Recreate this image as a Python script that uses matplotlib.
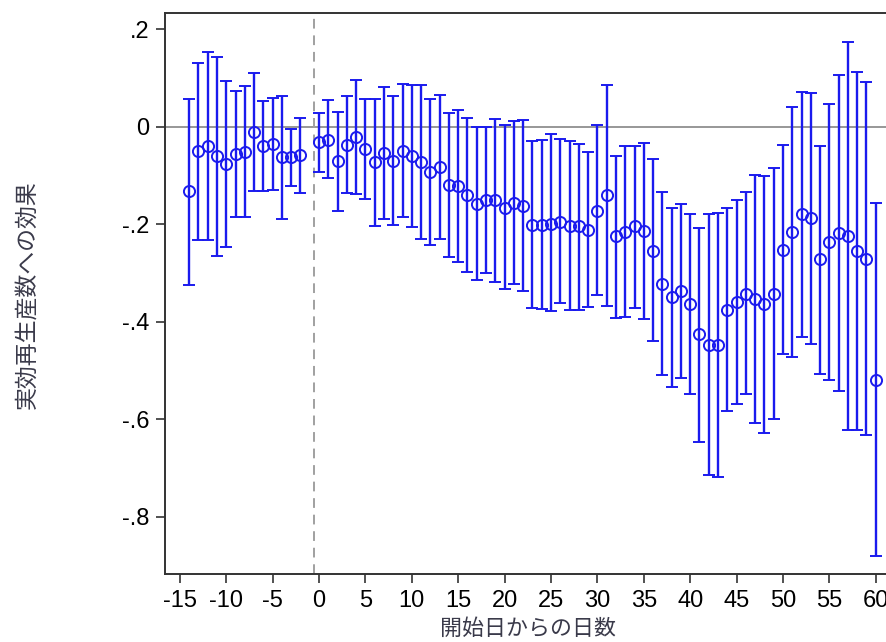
import matplotlib
matplotlib.use("Agg")
import matplotlib.pyplot as plt
import numpy as np

days = [-14, -13, -12, -11, -10, -9, -8, -7, -6, -5, -4, -3, -2,
        0, 1, 2, 3, 4, 5, 6, 7, 8, 9, 10, 11, 12, 13, 14, 15, 16, 17, 18, 19, 20,
        21, 22, 23, 24, 25, 26, 27, 28, 29, 30, 31, 32, 33, 34, 35, 36, 37, 38, 39, 40,
        41, 42, 43, 44, 45, 46, 47, 48, 49, 50, 51, 52, 53, 54, 55, 56, 57, 58, 59, 60]

coef = [-0.132, -0.050, -0.039, -0.061, -0.076, -0.057, -0.051, -0.010, -0.040, -0.035, -0.063, -0.063, -0.059,
        -0.032, -0.027, -0.071, -0.037, -0.021, -0.046, -0.073, -0.055, -0.070, -0.049, -0.061,
        -0.072, -0.093, -0.083, -0.119, -0.122, -0.140, -0.158, -0.151, -0.151, -0.166,
        -0.157, -0.163, -0.201, -0.201, -0.199, -0.196, -0.203, -0.204, -0.211, -0.172,
        -0.141, -0.225, -0.215, -0.204, -0.214, -0.254, -0.322, -0.350, -0.337, -0.363,
        -0.426, -0.448, -0.448, -0.375, -0.359, -0.342, -0.354, -0.364, -0.342, -0.252,
        -0.216, -0.179, -0.187, -0.272, -0.237, -0.218, -0.224, -0.255, -0.272, -0.520]

upper = [0.057, 0.131, 0.154, 0.142, 0.093, 0.073, 0.083, 0.111, 0.053, 0.058, 0.063, -0.005, 0.017,
         0.027, 0.055, 0.031, 0.062, 0.095, 0.056, 0.056, 0.081, 0.063, 0.087, 0.086,
         0.086, 0.057, 0.065, 0.029, 0.035, 0.018, -0.001, -0.001, 0.015, 0.003,
         0.011, 0.014, -0.030, -0.027, -0.016, -0.025, -0.029, -0.035, -0.052, 0.003,
         0.086, -0.060, -0.040, -0.039, -0.034, -0.066, -0.134, -0.166, -0.158, -0.180,
         -0.207, -0.180, -0.177, -0.166, -0.151, -0.134, -0.100, -0.102, -0.084, -0.037,
         0.040, 0.071, 0.069, -0.039, 0.047, 0.106, 0.174, 0.112, 0.091, -0.157]

lower = [-0.324, -0.232, -0.232, -0.265, -0.247, -0.185, -0.185, -0.131, -0.131, -0.129, -0.189, -0.121, -0.136,
         -0.092, -0.106, -0.172, -0.137, -0.138, -0.148, -0.203, -0.190, -0.201, -0.185, -0.206,
         -0.230, -0.242, -0.231, -0.267, -0.277, -0.297, -0.314, -0.301, -0.318, -0.332,
         -0.322, -0.337, -0.372, -0.374, -0.378, -0.361, -0.376, -0.375, -0.370, -0.346,
         -0.367, -0.392, -0.391, -0.371, -0.395, -0.439, -0.509, -0.534, -0.516, -0.547,
         -0.646, -0.715, -0.718, -0.582, -0.569, -0.549, -0.608, -0.627, -0.600, -0.466,
         -0.472, -0.431, -0.445, -0.507, -0.520, -0.542, -0.622, -0.622, -0.633, -0.880]

xticks = list(range(-15, 61, 5))
yticks = [0.2, 0.0, -0.2, -0.4, -0.6, -0.8]
ytick_labels = [".2", "0", "-.2", "-.4", "-.6", "-.8"]
ylabel = "実効再生産数への効果"
xlabel = "開始日からの日数"

days_a = np.array(days)
coef_a = np.array(coef)
yerr = np.vstack([coef_a - np.array(lower), np.array(upper) - coef_a])

W, H = 887, 642
fig = plt.figure(figsize=(W / 100, H / 100), dpi=100)
left_px, right_px, top_px, bot_px = 165, 890.6, 13, 574
ax = fig.add_axes([left_px / W, 1 - bot_px / H, (right_px - left_px) / W, (bot_px - top_px) / H])

blue = "#1a1aee"
ax.axhline(0, color="#858585", lw=1.2, zorder=1)
ax.axvline(-0.5, color="#a0a0a0", lw=1.4, ls=(0, (5, 3.5)), zorder=1)
ax.errorbar(days_a, coef_a, yerr=yerr, fmt="o", color=blue, ecolor=blue,
            elinewidth=1.7, capsize=4.3, capthick=1.7,
            markersize=8, markerfacecolor="none", markeredgecolor=blue, markeredgewidth=1.4,
            zorder=3)

ax.set_xlim(-16.6, 61.6)
ax.set_ylim(-0.917, 0.233)
ax.set_xticks(xticks)
ax.set_xticklabels([str(t) for t in xticks], fontfamily="Liberation Sans", fontsize=17)
ax.set_yticks(yticks)
ax.set_yticklabels(ytick_labels, fontfamily="Liberation Sans", fontsize=17)
ax.tick_params(axis="both", direction="out", length=6.5, width=1.2, color="#333333", pad=5)

for s in ax.spines.values():
    s.set_color("#333333")
    s.set_linewidth(1.4)

fig.text(28 / W, 1 - 295 / H, ylabel, rotation=90, ha="center", va="center",
         fontfamily=["Noto Sans CJK JP", "DejaVu Sans"], fontsize=16.5, color="#3a3a4a")
fig.text(528 / W, 1 - 629 / H, xlabel, ha="center", va="center",
         fontfamily=["Noto Sans CJK JP", "DejaVu Sans"], fontsize=15.8, color="#3a3a4a")

fig.savefig("out.png", dpi=100)
